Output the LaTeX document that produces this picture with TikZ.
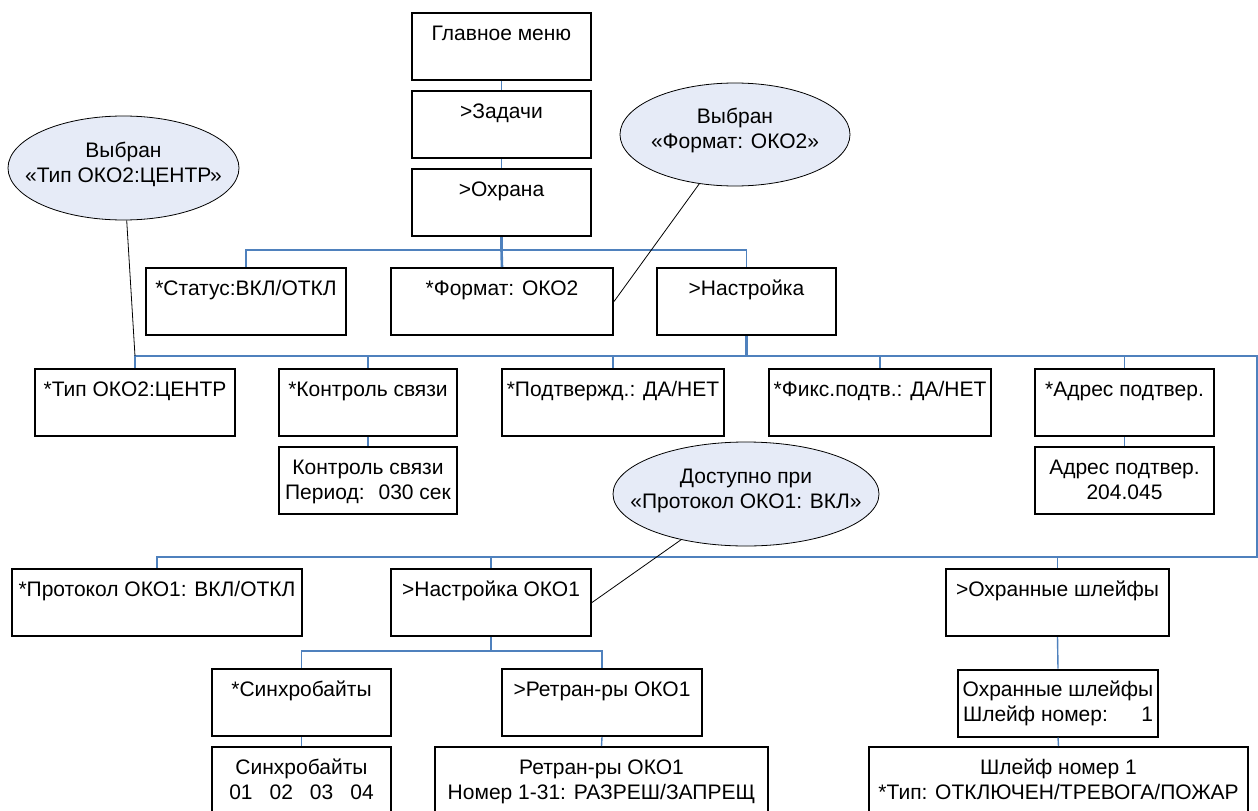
\documentclass[tikz,border=0pt]{standalone}
\usepackage{fontspec}
\setmainfont{Liberation Sans}
\usetikzlibrary{shapes.geometric}
\definecolor{conn}{RGB}{79,129,189}
\definecolor{ellfill}{RGB}{230,235,247}
\newcommand{\strA}{\rule[-5pt]{0pt}{22pt}}
\newcommand{\strB}{\rule[-14pt]{0pt}{31pt}}
\newcommand{\zw}[1]{\makebox[0pt][c]{#1}}
\begin{document}
\begin{tikzpicture}[x=1pt,y=-1pt,
  every node/.style={font=\fontsize{21}{25}\selectfont},
  menubox/.style={draw=black, line width=2pt, fill=white, rectangle, anchor=north,
    align=center, inner sep=0pt, minimum height=67pt},
  note/.style={draw=black, line width=0.8pt, fill=ellfill, ellipse, align=center,
    inner sep=0pt},
  tree/.style={draw=conn, line width=1.4pt},
  trunk/.style={draw=conn, line width=2.6pt},
  pointer/.style={draw=black, line width=0.8pt}]
\useasboundingbox (0,0) rectangle (1258,811);

% --- boxes ---
\node[menubox, minimum width=179pt] (gm)  at (501.5,12)  {\strA Главное меню\\\strA};
\node[menubox, minimum width=179pt] (zad) at (501.5,90)  {\strA >Задачи\\\strA};
\node[menubox, minimum width=179pt] (ohr) at (501.5,168) {\strA >Охрана\\\strA};

\node[menubox, minimum width=200pt] (stat) at (246,267)   {\strA *Статус:ВКЛ/ОТКЛ\\\strA};
\node[menubox, minimum width=222pt] (fmt)  at (502,267)   {\strA *Формат: ОКО2\\\strA};
\node[menubox, minimum width=179pt] (nast) at (746.5,267) {\strA >Настройка\\\strA};

\node[menubox, minimum width=200pt] (tip)  at (135,368)    {\strA *Тип ОКО2:ЦЕНТР\\\strA};
\node[menubox, minimum width=178pt] (kon)  at (368,368)    {\strA *Контроль связи\\\strA};
\node[menubox, minimum width=178pt] (kond) at (368,446)    {\strA Контроль связи\\\strA Период:\hspace{14pt}030 сек};
\node[menubox, minimum width=222pt] (podt) at (613,368)    {\strA *Подтвержд.: ДА/НЕТ\\\strA};
\node[menubox, minimum width=222pt] (fiks) at (880,368)    {\strA *Фикс.подтв.: ДА/НЕТ\\\strA};
\node[menubox, minimum width=179pt] (adr)  at (1124.5,368) {\strA *Адрес подтвер.\\\strA};
\node[menubox, minimum width=179pt] (adrd) at (1124.5,446) {\strA Адрес подтвер.\\\strA 204.045};

\node[menubox, minimum width=290pt] (prot) at (157,568)    {\strA *Протокол ОКО1: ВКЛ/ОТКЛ\\\strA};
\node[menubox, minimum width=200pt] (n1)   at (491,568)    {\strA >Настройка ОКО1\\\strA};
\node[menubox, minimum width=223pt] (osh)  at (1057.5,568) {\strA >Охранные шлейфы\\\strA};

\node[menubox, minimum width=179pt] (sin)  at (301.5,668)  {\strA *Синхробайты\\\strA};
\node[menubox, minimum width=200pt] (ret)  at (602,668)    {\strA >Ретран-ры ОКО1\\\strA};
\node[menubox, minimum width=200pt] (oshd) at (1058,668.5) {\strA Охранные шлейфы\\\strA\makebox[190pt][l]{Шлейф номер:\hfill 1}};

\node[menubox, minimum width=179pt] (sind) at (301.5,746)  {\strA Синхробайты\\\strA 01\hspace{17pt}02\hspace{17pt}03\hspace{17pt}04};
\node[menubox, minimum width=333pt] (retd) at (601.5,746)  {\strA Ретран-ры ОКО1\\\strA Номер 1-31: РАЗРЕШ/ЗАПРЕЩ};
\node[menubox, minimum width=379pt] (shl)  at (1058.5,746) {\strA Шлейф номер 1\\\strA *Тип: ОТКЛЮЧЕН/ТРЕВОГА/ПОЖАР};

% --- notes ---
\node[note, minimum width=231pt, minimum height=104pt] (e1) at (123.5,168) {\strA\zw{Выбран}\\\strB\zw{«Тип ОКО2:ЦЕНТР»}};
\node[note, minimum width=230pt, minimum height=103pt] (e2) at (735,134.5) {\strA\zw{Выбран}\\\strB\zw{«Формат: ОКО2»}};
\node[note, minimum width=266pt, minimum height=104pt] (e3) at (746,494) {\strA\zw{Доступно при}\\\strB\zw{«Протокол ОКО1: ВКЛ»}};

% --- bus coordinates ---
\coordinate (busA) at (0,250);
\coordinate (rB) at (1257,356);
\coordinate (rC) at (1257,557);
\coordinate (busD) at (0,651);
\coordinate (tipJ) at (tip.north |- rB);

% --- tree connectors ---
\draw[tree] (gm.south) -- (zad.north);
\draw[tree] (zad.south) -- (ohr.north);
\draw[tree] (stat.north) |- (nast.north |- busA) -- (nast.north);
\draw[trunk] (ohr.south) -- (ohr.south |- busA) -- (fmt.north);

\draw[tree] (tip.north) -- (tipJ) -- (rB) -- (rC) -| (prot.north);
\draw[tree] (kon.north) -- (kon.north |- rB);
\draw[tree] (podt.north) -- (podt.north |- rB);
\draw[tree] (fiks.north) -- (fiks.north |- rB);
\draw[tree] (adr.north) -- (adr.north |- rB);
\draw[trunk] (nast.south) -- (nast.south |- rB);
\draw[tree] (n1.north) -- (n1.north |- rC);
\draw[tree] (osh.north) -- (osh.north |- rC);

\draw[tree] (kon.south) -- (kond.north);
\draw[tree] (adr.south) -- (adrd.north);

\draw[tree] (n1.south) -- (n1.south |- busD);
\draw[tree] (sin.north) |- (ret.north |- busD) -- (ret.north);
\draw[tree] (sin.south) -- (sind.north);
\draw[tree] (ret.south) -- (retd.north);
\draw[tree] (osh.south) -- (oshd.north);
\draw[tree] (oshd.south) -- (shl.north);

% --- note pointers ---
\draw[pointer] (tipJ) -- (e1);
\draw[pointer] (fmt.east) -- (e2);
\draw[pointer] (n1.east) -- (e3);
\end{tikzpicture}
\end{document}
